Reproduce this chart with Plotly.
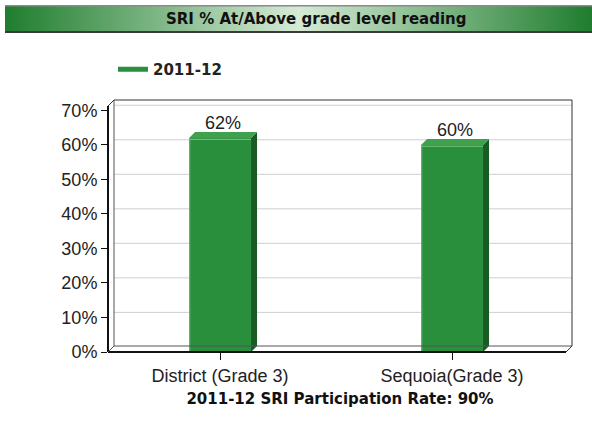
import base64
import plotly.graph_objects as go

# ---- data ----
categories = ["District (Grade 3)", "Sequoia(Grade 3)"]
values = [62, 60]
series_name = "2011-12"
y_tickvals = [0, 10, 20, 30, 40, 50, 60, 70]
y_ticktext = ["0%", "10%", "20%", "30%", "40%", "50%", "60%", "70%"]
chart_title = "SRI % At/Above grade level reading"
x_title = "2011-12 SRI Participation Rate: 90%"

# ---- style ----
W, H = 592, 428
L, R, T, B = 108, 20, 100, 76
pw, ph = W - L - R, H - T - B
YMAX = 73.0
XR = [-0.483, 1.517]
bar_w = 0.267
depth_px = 6
dxp = depth_px / pw          # paper
dyp = depth_px / ph          # paper
dxd = depth_px / pw * (XR[1] - XR[0])   # data x
dyd = depth_px / ph * YMAX               # data y
front = "#2a8f3c"
side = "#1a5a25"
topc = "#3fa04d"
font = "Liberation Sans"
fontb = "DejaVu Sans"
fs = 18
fsb = 15

fig = go.Figure()
fig.add_trace(go.Bar(x=list(range(len(categories))), y=values, width=bar_w,
                     marker=dict(color=front, line=dict(width=0)),
                     showlegend=False, hoverinfo="skip"))
fig.add_trace(go.Scatter(x=[None], y=[None], mode="lines", name=series_name,
                         line=dict(color=front, width=5)))

shapes = []
# gridlines on back wall
for t in y_tickvals[1:]:
    shapes.append(dict(type="line", xref="paper", yref="y", x0=dxp, x1=1,
                       y0=t + dyd * 0.85, y1=t + dyd * 0.85, layer="below",
                       line=dict(color="#cfcfcf", width=1)))
# 3D bar faces
for i, v in enumerate(values):
    xl, xr = i - bar_w / 2, i + bar_w / 2
    shapes.append(dict(type="path", xref="x", yref="y", layer="above",
                       path=f"M{xr},0 L{xr+dxd},{dyd} L{xr+dxd},{v+dyd} L{xr},{v} Z",
                       fillcolor=side, line=dict(width=0)))
    shapes.append(dict(type="path", xref="x", yref="y", layer="above",
                       path=f"M{xl},{v} L{xl+dxd},{v+dyd} L{xr+dxd},{v+dyd} L{xr},{v} Z",
                       fillcolor=topc, line=dict(width=0)))
    shapes.append(dict(type="line", xref="x", yref="y", layer="above",
                       x0=xl, x1=xr, y0=v - 0.4, y1=v - 0.4,
                       line=dict(color="#7cc487", width=1)))
    shapes.append(dict(type="line", xref="x", yref="y", layer="above",
                       x0=xl + 0.003, x1=xl + 0.003, y0=0, y1=v,
                       line=dict(color="#6fbf7b", width=1)))

# 3D frame
def pl(x0, y0, x1, y1, w=1, c="#333333"):
    shapes.append(dict(type="line", xref="paper", yref="paper", x0=x0, y0=y0,
                       x1=x1, y1=y1, layer="above", line=dict(color=c, width=w)))

pl(dxp, 1, 1, 1)
pl(1, 1, 1, dyp)
pl(dxp, 1, dxp, dyp, 1, "#555555")
pl(dxp, dyp, 1, dyp, 1, "#555555")
pl(0, 1 - dyp, dxp, 1)
pl(1 - dxp, 0, 1, dyp)
pl(0, 0, 0, 1 - dyp, 2, "#111111")
pl(0, 0, 1 - dxp, 0, 2, "#111111")
pl(0, 0, dxp, dyp, 1, "#555555")

# title bar gradient (SVG data URI)
svg = ('<svg xmlns="http://www.w3.org/2000/svg" width="587" height="28" preserveAspectRatio="none">'
       '<defs><linearGradient id="g" x1="0" x2="1" y1="0" y2="0">'
       '<stop offset="0" stop-color="#1f7d2e"/><stop offset="0.5" stop-color="#d6ead6"/>'
       '<stop offset="1" stop-color="#1f7d2e"/></linearGradient></defs>'
       '<rect x="0" y="0" width="587" height="28" fill="url(#g)"/>'
       '<rect x="0" y="0" width="587" height="1.5" fill="#8a8a8a"/>'
       '<rect x="0" y="26" width="587" height="2" fill="#3a3a3a"/>'
       '</svg>')
src = "data:image/svg+xml;base64," + base64.b64encode(svg.encode()).decode()

def px2x(px):
    return (px - L) / pw

def py2y(py):
    return (H - B - py) / ph

images = [dict(source=src, xref="paper", yref="paper", x=px2x(5), y=py2y(5),
               sizex=(592 - 5) / pw, sizey=28 / ph, sizing="stretch",
               xanchor="left", yanchor="top", layer="below")]

annotations = [dict(text=f"<b>{chart_title}</b>", xref="paper", yref="paper",
                    x=px2x(316), y=py2y(19), xanchor="center", yanchor="middle",
                    showarrow=False,
                    font=dict(family=fontb, size=fsb, color="#111111"))]
for i, v in enumerate(values):
    annotations.append(dict(text=f"{v}%", x=i + dxd / 2, y=v + dyd, xref="x", yref="y",
                            yanchor="bottom", yshift=-3, showarrow=False,
                            font=dict(family=font, size=fs, color="#222222")))

fig.update_layout(
    width=W, height=H, margin=dict(l=L, r=R, t=T, b=B, autoexpand=False),
    paper_bgcolor="white", plot_bgcolor="white",
    font=dict(family=font, size=fs, color="#222222"),
    shapes=shapes, images=images, annotations=annotations,
    showlegend=True,
    legend=dict(x=px2x(113), y=py2y(53), xanchor="left", yanchor="top",
                font=dict(family=fontb, size=fsb, color="#222222", weight="bold"),
                bgcolor="rgba(0,0,0,0)"),
    bargap=0,
)
fig.update_xaxes(range=XR, tickvals=list(range(len(categories))), ticktext=categories,
                 showgrid=False, zeroline=False, showline=False,
                 ticks="outside", ticklen=7, tickcolor="#111111",
                 title=dict(text=f"<b>{x_title}</b>", standoff=8,
                            font=dict(family=fontb, size=fsb, color="#111111")),
                 fixedrange=True)
fig.update_yaxes(range=[0, YMAX], tickvals=y_tickvals, ticktext=y_ticktext,
                 showgrid=False, zeroline=False, showline=False,
                 ticks="outside", ticklen=6, tickcolor="#111111",
                 fixedrange=True)

fig.write_html("out.html", config={"displayModeBar": False},
               post_script="document.body.style.margin='0';")
